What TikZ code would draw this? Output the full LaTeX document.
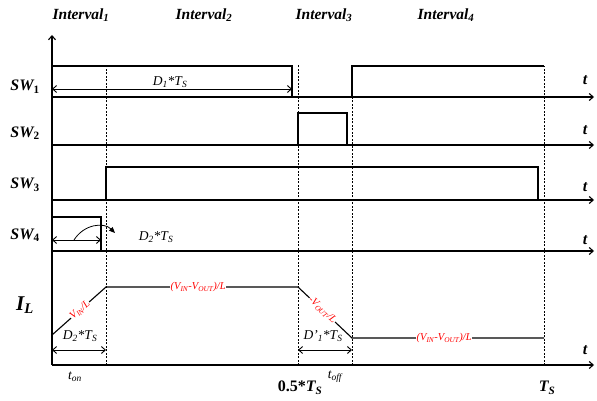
\documentclass[tikz,border=0pt]{standalone}
\usepackage{fontspec}
\setmainfont{Liberation Serif}
\usetikzlibrary{arrows.meta,positioning}

\begin{document}
\begin{tikzpicture}[
    x = 1pt, y = -1pt, % pixel-like units, y grows downwards
    > = {Straight Barb[length=4pt,width=7pt]}, % arrow head style
    axis/.style = {line width=1.1pt, ->},
    wave/.style = {line width=1.1pt},
    guide/.style = {line width=0.8pt, dash pattern=on 2pt off 1.5pt},
    span/.style = {line width=0.9pt, <->},
    sig/.style = {font=\bfseries\itshape\fontsize{16}{16}\selectfont},
    ttl/.style = {font=\bfseries\itshape\fontsize{15.5}{16}\selectfont},
    dur/.style = {font=\itshape\fontsize{13.5}{14}\selectfont, inner sep=1pt},
    slope/.style = {text=red, fill=white, font=\itshape\fontsize{10.5}{11}\selectfont, inner sep=0.5pt}
    ]

    \useasboundingbox (0,0) rectangle (597,401);

    % time axis and edges of the intervals
    \coordinate (o) at (52,365);
    \coordinate (top) at (52,35);
    \coordinate (e1) at (106,365);
    \coordinate (e2) at (298,365);
    \coordinate (e3) at (352,365);
    \coordinate (e4) at (544,365);
    \draw[axis] (o) -- (top);

    \foreach \y/\n in {97/1,145/2,200/3,251/4,365/5}{
        \coordinate (a\n) at (52,\y);
        \coordinate (b\n) at (594,\y);
        \draw[axis] (a\n) -- (b\n);
    }
    \foreach \y/\n in {80/1,130/2,187/3,240/4,350/5}
        \node[sig] (t\n) at (585,\y) {t};

    \draw[guide] (e1) -- (106,65);
    \draw[guide] (e2) -- (298,65);
    \draw[guide] (e3) -- (352,97);
    \draw[guide] (e4) -- (544,66);

    % interval titles
    \node[ttl] (int1) at (81,15) {Interval\textsubscript{1}};
    \node[ttl] (int2) at (204,15) {Interval\textsubscript{2}};
    \node[ttl] (int3) at (324,15) {Interval\textsubscript{3}};
    \node[ttl] (int4) at (446,15) {Interval\textsubscript{4}};

    % signal names
    \node[sig] (sw1) at (25,87) {SW\textsubscript{\upshape 1}};
    \node[sig] (sw2) at (25,133) {SW\textsubscript{\upshape 2}};
    \node[sig] (sw3) at (25,185) {SW\textsubscript{\upshape 3}};
    \node[sig] (sw4) at (25,235) {SW\textsubscript{\upshape 4}};
    \node[sig, font=\bfseries\itshape\fontsize{21}{21}\selectfont] (il) at (25,305) {I\textsubscript{L}};

    % SW1
    \draw[wave] (a1) |- (292,66) -- (292,97);
    \draw[wave] (352,97) |- (544,66);
    \coordinate (d1l) at (52,89);
    \coordinate (d1r) at (292,89);
    \draw[span] (d1l) -- (d1r);
    \node[dur, fill=white] (d1) at (170,82) {D\textsubscript{1}*T\textsubscript{S}};

    % SW2
    \draw[wave] (298,145) |- (347,113) -- (347,145);

    % SW3
    \draw[wave] (106,200) |- (538,167) -- (538,200);

    % SW4
    \draw[wave] (52,217) -- (101,217) -- (101,251);
    \coordinate (d2l) at (52,240);
    \coordinate (d2r) at (101,240);
    \draw[span] (d2l) -- (d2r);
    \node[dur] (d2) at (156,237) {D\textsubscript{2}*T\textsubscript{S}};
    \draw[line width=0.8pt, -{Triangle[length=6pt,width=5pt]}] (74,240) .. controls (84,224) and (104,222) .. (115,233);

    % inductor current
    \coordinate (i0) at (52,335);
    \coordinate (i1) at (106,287);
    \coordinate (i2) at (298,287);
    \coordinate (i3) at (352,338);
    \coordinate (i4) at (544,338);
    \draw[wave] (i0) -- node[slope, sloped, pos=0.52] {V\textsubscript{IN}/L} (i1)
        -- node[slope, pos=0.48] {(V\textsubscript{IN}-V\textsubscript{OUT})/L} (i2)
        -- node[slope, sloped, pos=0.45] {-V\textsubscript{OUT}/L} (i3)
        -- node[slope, pos=0.48] {(V\textsubscript{IN}-V\textsubscript{OUT})/L} (i4);

    % durations of the ramps
    \draw[span] (52,350) -- (106,350);
    \node[dur] (ton) at (80,336) {D\textsubscript{2}*T\textsubscript{S}};
    \draw[span] (298,350) -- (352,350);
    \node[dur] (toff) at (323,336) {D'\textsubscript{1}*T\textsubscript{S}};

    % time marks
    \node[dur] (on) at (75,377) {t\textsubscript{on}};
    \node[dur] (off) at (335,377) {t\textsubscript{off}};
    \node[sig] (half) at (300,388) {\upshape 0.5*\itshape T\textsubscript{S}};
    \node[sig] (ts) at (547,388) {T\textsubscript{S}};
\end{tikzpicture}
\end{document}
